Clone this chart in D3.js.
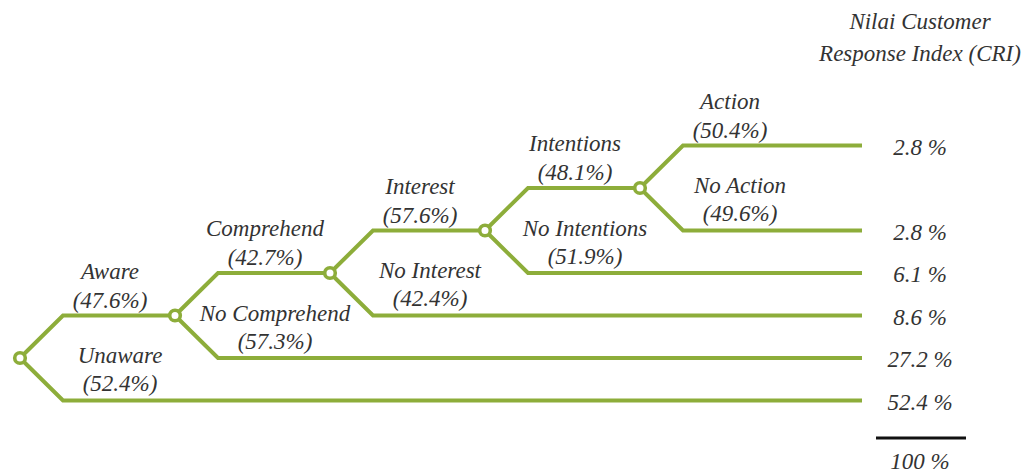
<html>
<head>
    <meta charset="utf-8">
    <script src="https://cdn.jsdelivr.net/npm/d3@7"></script>
    <style>
        body { margin: 0; background: #fff; }
        path.branch {
            fill: none;
            stroke: #8dad3a;
            stroke-width: 4px;
            stroke-linejoin: miter;
        }
        circle.node {
            fill: #fff;
            stroke: #8dad3a;
            stroke-width: 3.6px;
        }
    </style>
</head>
<body>
<script>

    // stages of the response tree, left to right
    var stages = ["Aware", "Comprehend", "Interest", "Intentions", "Action"];
    var negStages = ["Unaware", "No Comprehend", "No Interest", "No Intentions", "No Action"];
    var yesPct = [47.6, 42.7, 57.6, 48.1, 50.4];
    var noPct = [52.4, 57.3, 42.4, 51.9, 49.6];

    // CRI column, top to bottom
    var criValues = [2.8, 2.8, 6.1, 8.6, 27.2, 52.4];
    var criTotal = 100;
    var criTitle = ["Nilai Customer", "Response Index (CRI)"];

    var width = 1023,
        height = 473;

    var svg = d3.select("body").append("svg")
        .attr("width", width)
        .attr("height", height)
        .attr("font-family", "Liberation Serif")
        .attr("font-style", "italic")
        .attr("font-size", 23)
        .attr("fill", "#333")
        .attr("text-anchor", "middle");

    var n = stages.length;
    var x = d3.scaleLinear().domain([0, n - 1]).range([20, 640]);
    var y = d3.scaleLinear().domain([0, n - 1]).range([358, 188]);
    var dx = 43,
        endX = 862;

    // branch paths
    var branches = [];
    stages.forEach(function (s, i) {
        var x0 = x(i), y0 = y(i);
        var upEnd = i < n - 1 ? x(i + 1) : endX;
        branches.push("M" + x0 + "," + y0 + "L" + (x0 + dx) + "," + y(i + 1) + "L" + upEnd + "," + y(i + 1));
        branches.push("M" + x0 + "," + y0 + "L" + (x0 + dx) + "," + y(i - 1) + "L" + endX + "," + y(i - 1));
    });

    svg.append("g")
        .selectAll("path")
        .data(branches)
        .enter().append("path")
        .attr("class", "branch")
        .attr("d", function (d) { return d; });

    svg.append("g")
        .selectAll("circle")
        .data(stages)
        .enter().append("circle")
        .attr("class", "node")
        .attr("cx", function (d, i) { return x(i); })
        .attr("cy", function (d, i) { return y(i); })
        .attr("r", 5.3);

    function fmt(v) { return "(" + v.toFixed(1) + "%)"; }

    // labels above the upper branch
    var up = svg.append("g").selectAll("g")
        .data(stages)
        .enter().append("g")
        .attr("transform", function (d, i) { return "translate(" + (x(i) + 90) + "," + y(i + 1) + ")"; });
    up.append("text").attr("y", -45).attr("dy", "0.35em").text(function (d) { return d; });
    up.append("text").attr("y", -16).attr("dy", "0.35em").text(function (d, i) { return fmt(yesPct[i]); });

    // labels below the node for the lower branch
    var down = svg.append("g").selectAll("g")
        .data(negStages)
        .enter().append("g")
        .attr("transform", function (d, i) { return "translate(" + (x(i) + 100) + "," + y(i) + ")"; });
    down.append("text").attr("y", -3).attr("dy", "0.35em").text(function (d) { return d; });
    down.append("text").attr("y", 25).attr("dy", "0.35em").text(function (d, i) { return fmt(noPct[i]); });

    // CRI column
    var colX = 920;
    var rows = [n, n - 2, n - 3, n - 4, n - 5, n - 6];

    svg.append("g").selectAll("text")
        .data(criTitle)
        .enter().append("text")
        .attr("x", colX)
        .attr("y", function (d, i) { return 21 + i * 32; })
        .attr("dy", "0.35em")
        .text(function (d) { return d; });

    svg.append("g").selectAll("text")
        .data(criValues)
        .enter().append("text")
        .attr("x", colX)
        .attr("y", function (d, i) { return y(rows[i]) + 1; })
        .attr("dy", "0.35em")
        .text(function (d) { return d.toFixed(1) + " %"; });

    svg.append("line")
        .attr("x1", 876).attr("x2", 966)
        .attr("y1", 438).attr("y2", 438)
        .attr("stroke", "#111")
        .attr("stroke-width", 3);

    svg.append("text")
        .attr("x", colX)
        .attr("y", 461)
        .attr("dy", "0.35em")
        .text(criTotal + " %");

</script>
</body>
</html>
